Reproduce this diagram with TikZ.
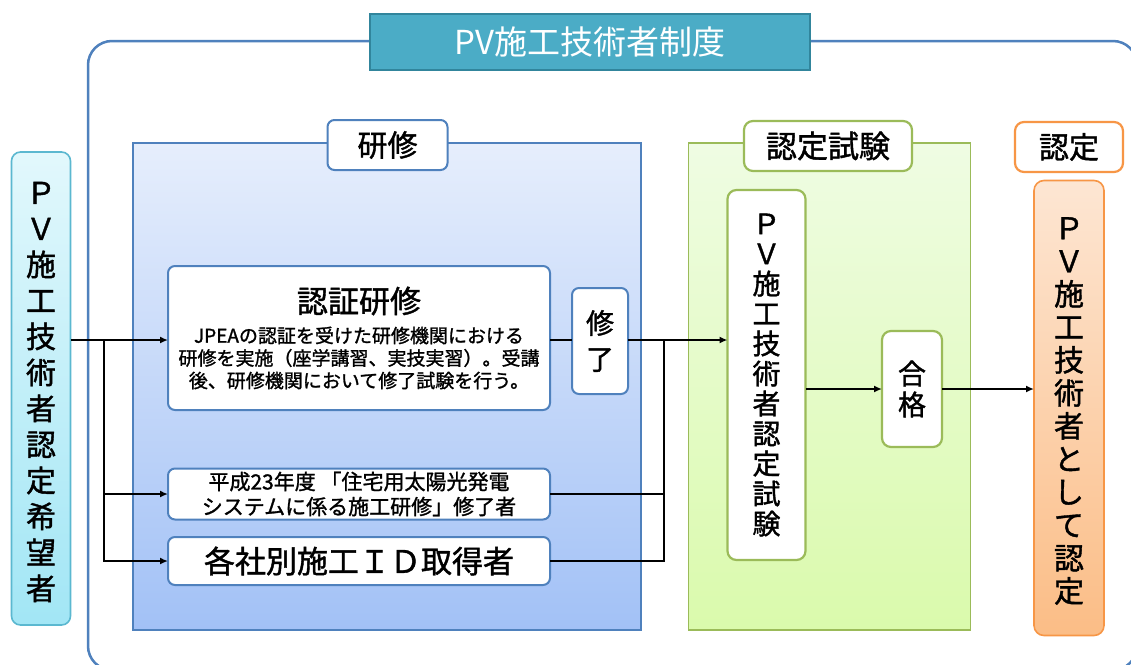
\documentclass[tikz,border=0pt]{standalone}
\usepackage{fontspec}
\newfontfamily\jp[FakeBold=1.3]{Noto Sans CJK JP}
\newfontfamily\jplight{Noto Sans CJK JP}
\usetikzlibrary{arrows.meta}
\definecolor{frameblue}{HTML}{4F81BD}
\definecolor{titlefill}{HTML}{4BACC6}
\definecolor{titledraw}{HTML}{31859C}
\definecolor{cyanedge}{HTML}{5BB8D0}
\definecolor{cyantop}{HTML}{E2F8FC}
\definecolor{cyanbot}{HTML}{A2E6F5}
\definecolor{bluetop}{HTML}{E6EEFC}
\definecolor{bluebot}{HTML}{A2C1F6}
\definecolor{greenedge}{HTML}{9BBB59}
\definecolor{greentop}{HTML}{EFFCE3}
\definecolor{greenbot}{HTML}{DAFAAC}
\definecolor{orangeedge}{HTML}{F79646}
\definecolor{orangetop}{HTML}{FDE6D3}
\definecolor{orangebot}{HTML}{FBBD86}
\begin{document}
\begin{tikzpicture}[x=1pt,y=-1pt,
  every node/.style={inner sep=0pt, outer sep=0pt, font=\jp},
  bluebox/.style={draw=frameblue, line width=2pt, fill=white, rounded corners=7pt},
  greenbox/.style={draw=greenedge, line width=2.2pt, fill=white, rounded corners=9pt},
  panel/.style={line width=1.2pt},
  conn/.style={line width=1.6pt, black},
  arr/.style={conn, -{Latex[length=8pt,width=7pt]}},
]
\useasboundingbox (0,0) rectangle (1131,664);
\fill[white] (0,0) rectangle (1131,664);
% outer frame
\begin{scope}
\clip (0,0) rectangle (1131,664);
\draw[frameblue, line width=2.5pt, rounded corners=24pt] (88,41) rectangle (1137,670);
\end{scope}
% title
\node[draw=titledraw, line width=2pt, fill=titlefill, minimum width=440pt, minimum height=56pt,
  text=white, font={\jplight\fontsize{33}{36}\selectfont}] (title) at (590,42) {PV施工技術者制度};

% left box
\node[draw=cyanedge, line width=1.6pt, top color=cyantop, bottom color=cyanbot, rounded corners=9pt,
  minimum width=59pt, minimum height=473pt] (applicant) at (41,388.5) {};
\node[align=center, font={\jp\fontsize{30}{36}\selectfont}] (applicanttext) at (41,392)
  {Ｐ\\Ｖ\\施\\工\\技\\術\\者\\認\\定\\希\\望\\者};

% blue panel
\node[panel, draw=frameblue, top color=bluetop, bottom color=bluebot, minimum width=508pt, minimum height=487pt] (trainpanel) at (387,386.5) {};
\node[bluebox, minimum width=120pt, minimum height=50pt, font={\jp\fontsize{30}{36}\selectfont}] (trainlabel) at (387.5,145) {研修};

\node[bluebox, minimum width=382pt, minimum height=144pt] (ninsho) at (359,338) {};
\node[font={\jp\fontsize{31}{36}\selectfont}] (ninshotitle) at (359,301) {認証研修};
\node[align=center, font={\jp\fontsize{19}{22.5}\selectfont}] (ninshobody) at (359,358)
  {JPEAの認証を受けた研修機関における\\研修を実施（座学講習、実技実習）。受講\\後、研修機関において修了試験を行う。};

\node[bluebox, minimum width=56pt, minimum height=106pt, align=center, font={\jp\fontsize{28}{36}\selectfont}] (shuryo) at (600,341) {修\\了};

\node[bluebox, minimum width=382pt, minimum height=51pt, align=center, font={\jp\fontsize{21}{25}\selectfont}] (heisei) at (359,494)
  {平成23年度 「住宅用太陽光発電\\システムに係る施工研修」修了者};
\node[bluebox, minimum width=382pt, minimum height=48pt, font={\jp\fontsize{31}{36}\selectfont}] (kakusha) at (359,561) {各社別施工ＩＤ取得者};

% green panel
\node[panel, draw=greenedge, top color=greentop, bottom color=greenbot, minimum width=282pt, minimum height=487pt] (exampanel) at (829.5,386.5) {};
\node[greenbox, minimum width=168pt, minimum height=50pt, font={\jp\fontsize{31}{36}\selectfont}] (examlabel) at (828,146) {認定試験};
\node[greenbox, minimum width=78pt, minimum height=370pt, align=center, font={\jp\fontsize{28}{30}\selectfont}] (exam) at (766.5,375)
  {Ｐ\\Ｖ\\施\\工\\技\\術\\者\\認\\定\\試\\験};
\node[greenbox, minimum width=60pt, minimum height=116pt, align=center, font={\jp\fontsize{28}{31}\selectfont}] (pass) at (912,389) {合\\格};

% certification
\node[draw=orangeedge, line width=2.2pt, fill=white, rounded corners=9pt, minimum width=108pt, minimum height=50pt, font={\jp\fontsize{30}{36}\selectfont}] (certlabel) at (1069,147) {認定};
\node[draw=orangeedge, line width=1.6pt, top color=orangetop, bottom color=orangebot, rounded corners=10pt,
  minimum width=70pt, minimum height=455pt] (cert) at (1069,408) {};
\node[align=center, font={\jp\fontsize{30}{33}\selectfont}] (certtext) at (1069,411)
  {Ｐ\\Ｖ\\施\\工\\技\\術\\者\\と\\し\\て\\認\\定};

% connectors
\coordinate (split) at (104,340);
\coordinate (merge) at (664,340);
\draw[arr] (applicant.east |- split) -- (ninsho.west |- split);
\draw[arr] (split) |- (heisei.west);
\draw[arr] (split) |- (kakusha.west);
\draw[conn] (ninsho.east |- split) -- (shuryo.west |- split);
\draw[arr] (shuryo.east |- split) -- (exam.west |- split);
\draw[conn] (heisei.east) -| (merge);
\draw[conn] (kakusha.east) -| (merge);
\draw[arr] (exam.east |- pass.west) -- (pass.west);
\draw[arr] (pass.east) -- (cert.west |- pass.east);
\end{tikzpicture}
\end{document}
